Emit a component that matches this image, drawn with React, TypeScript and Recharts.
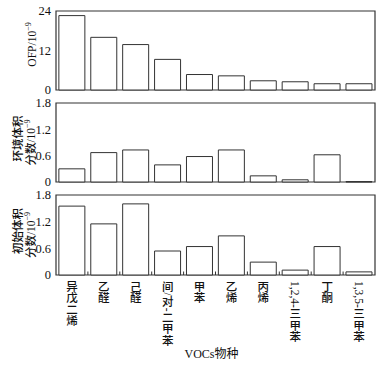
import { Bar, BarChart, ReferenceArea, XAxis, YAxis } from "recharts";

const categories = [
  "异戊二烯",
  "乙醛",
  "己醛",
  "间/对-二甲苯",
  "甲苯",
  "乙烯",
  "丙烯",
  "1,2,4-三甲苯",
  "丁酮",
  "1,3,5-三甲苯"
];
const ofpValues = [22.6, 16.0, 13.8, 9.3, 4.7, 4.3, 2.8, 2.5, 1.9, 1.9];
const ambientValues = [0.3, 0.67, 0.73, 0.39, 0.58, 0.73, 0.14, 0.05, 0.62, 0.01];
const initialValues = [1.55, 1.15, 1.6, 0.54, 0.64, 0.88, 0.29, 0.11, 0.64, 0.07];

const ofpTicks = [0, 6, 12, 18, 24];
const fracTicks = [0, 0.6, 1.2, 1.8];

const data = categories.map((name, i) => ({
  name,
  ofp: ofpValues[i],
  ambient: ambientValues[i],
  initial: initialValues[i]
}));

const FONT = "'Liberation Serif', 'Noto Sans CJK SC', serif";
const INK = "#111";
const EDGE = "#333";
const LABEL_SIZE = 11.5;

// rough advance widths (em) for the latin bits that get turned sideways
const latinWidth: Record<string, number> = { ",": 0.25, "-": 0.33, "/": 0.28 };

// split a label into upright CJK glyphs and sideways latin runs
function splitRuns(s: string) {
  const runs: { text: string; upright: boolean }[] = [];
  for (const ch of s) {
    const upright = ch.charCodeAt(0) > 0x2e80;
    const last = runs[runs.length - 1];
    if (!upright && last && !last.upright) last.text += ch;
    else runs.push({ text: ch, upright });
  }
  return runs;
}

function VerticalLabel({ x, y, text }: { x: number; y: number; text: string }) {
  let cursor = y;
  const parts = splitRuns(text).map((run, i) => {
    if (run.upright) {
      const el = (
        <text
          key={i}
          x={x}
          y={cursor + LABEL_SIZE / 2}
          textAnchor="middle"
          dominantBaseline="central"
          fill={INK}
          fontSize={LABEL_SIZE}
          fontWeight={500}
          fontFamily={FONT}
        >
          {run.text}
        </text>
      );
      cursor += LABEL_SIZE;
      return el;
    }
    let w = 0;
    for (const ch of run.text) w += (latinWidth[ch] ?? 0.5) * LABEL_SIZE;
    const start = cursor;
    cursor += w + 0.5;
    return (
      <text
        key={i}
        x={x}
        y={start}
        transform={`rotate(90, ${x}, ${start})`}
        textAnchor="start"
        dominantBaseline="central"
        fill={INK}
        fontSize={LABEL_SIZE}
        fontFamily={FONT}
      >
        {run.text}
      </text>
    );
  });
  return <g>{parts}</g>;
}

function CategoryTick(props: any) {
  const { x, y, index, payload, showLabel } = props;
  const half = payload && payload.offset ? payload.offset : 16;
  return (
    <g>
      {index > 0 && (
        <line x1={x - half} x2={x - half} y1={y} y2={y - 3.5} stroke={EDGE} strokeWidth={1} />
      )}
      {showLabel && <VerticalLabel x={x} y={y + 6} text={String(payload.value)} />}
    </g>
  );
}

function YTitle(props: any) {
  const { viewBox, lines } = props;
  const cy = viewBox.y + viewBox.height / 2;
  return (
    <g>
      {lines.map((ln: any, i: number) => (
        <text
          key={i}
          x={ln.x}
          y={cy + (ln.shift || 0)}
          transform={`rotate(-90, ${ln.x}, ${cy + (ln.shift || 0)})`}
          textAnchor="middle"
          dominantBaseline="central"
          fill={INK}
          fontSize={11.5}
          fontWeight={ln.cjk ? 500 : 400}
          fontFamily={FONT}
        >
          <tspan>{ln.text}</tspan>
          {ln.sup && (
            <tspan dy={-4} fontSize={8}>
              {ln.sup}
            </tspan>
          )}
        </text>
      ))}
    </g>
  );
}

function XTitle(props: any) {
  const { viewBox } = props;
  return (
    <text
      x={viewBox.x + viewBox.width / 2 - 4}
      y={viewBox.y + viewBox.height - 8}
      textAnchor="middle"
      fill={INK}
      fontSize={12}
      fontFamily={FONT}
    >
      VOCs物种
    </text>
  );
}

interface PanelProps {
  top: number;
  height: number;
  dataKey: string;
  max: number;
  ticks: number[];
  title: any[];
  bottom?: boolean;
}

function Panel({ top, height, dataKey, max, ticks, title, bottom }: PanelProps) {
  return (
    <div style={{ position: "absolute", left: 0, top, width: 385, height }}>
      <BarChart
        width={385}
        height={height}
        data={data}
        margin={{ top: 11, right: 10, left: 0, bottom: bottom ? 0 : 10 }}
        barCategoryGap="9%"
      >
        <XAxis
          dataKey="name"
          height={bottom ? 91 : 0}
          axisLine={false}
          tickLine={false}
          tickSize={0}
          tickMargin={0}
          interval={0}
          tick={<CategoryTick showLabel={!!bottom} />}
          label={bottom ? <XTitle /> : undefined}
        />
        <YAxis
          width={56}
          domain={[0, max]}
          ticks={ticks}
          axisLine={false}
          tickLine={false}
          tickSize={0}
          tickMargin={5}
          tick={{ fill: INK, fontSize: 12.5, fontFamily: FONT }}
          label={<YTitle lines={title} />}
        />
        <Bar
          dataKey={dataKey}
          fill="#fff"
          stroke={EDGE}
          strokeWidth={1}
          isAnimationActive={false}
        />
        <ReferenceArea y1={0} y2={max} fill="none" stroke={EDGE} strokeWidth={1.2} />
      </BarChart>
    </div>
  );
}

export default function App() {
  return (
    <div
      style={{
        position: "absolute",
        left: 0,
        top: 0,
        width: 385,
        height: 366,
        background: "#fff"
      }}
    >
      <Panel
        top={0}
        height={100}
        dataKey="ofp"
        max={24}
        ticks={ofpTicks}
        title={[{ x: 32, text: "OFP/10", sup: "−9", shift: -6 }]}
      />
      <Panel
        top={92}
        height={100}
        dataKey="ambient"
        max={1.8}
        ticks={fracTicks}
        title={[
          { x: 18, text: "环境体积", shift: -4, cjk: true },
          { x: 31, text: "分数/10", sup: "−9", cjk: true }
        ]}
      />
      <Panel
        top={184}
        height={182}
        dataKey="initial"
        max={1.8}
        ticks={fracTicks}
        title={[
          { x: 18, text: "初始体积", shift: -4, cjk: true },
          { x: 31, text: "分数/10", sup: "−9", cjk: true }
        ]}
        bottom
      />
    </div>
  );
}
